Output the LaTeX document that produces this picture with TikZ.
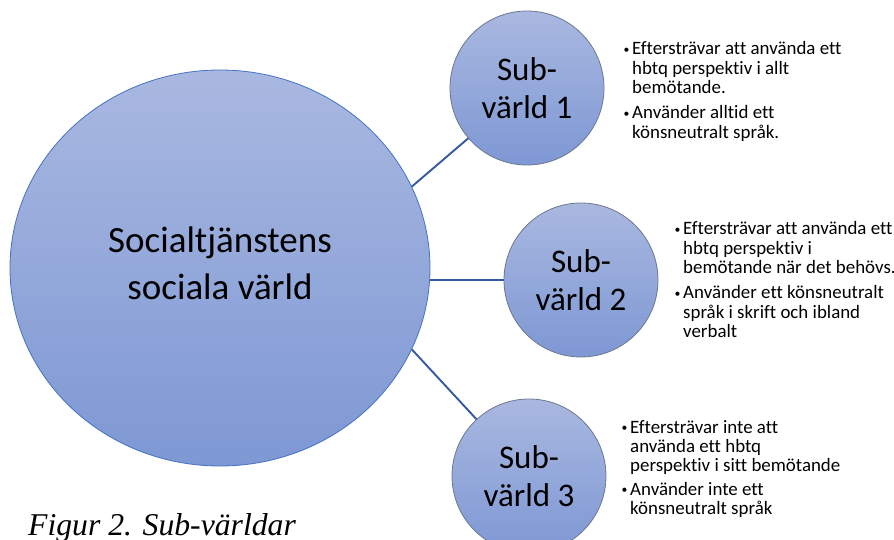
\documentclass[tikz,border=0pt]{standalone}
\usepackage{fontspec}
\setmainfont{Carlito}[Ligatures={NoCommon}]
\newfontfamily\capfont{Liberation Serif}
\usetikzlibrary{shapes.geometric}
\definecolor{topblue}{HTML}{A9B8E0}
\definecolor{botblue}{HTML}{7E98D4}
\definecolor{rimblue}{HTML}{4472C4}
\definecolor{rimgray}{HTML}{6E7790}
\definecolor{linkblue}{HTML}{3459A0}
\newcommand{\bulletline}[1]{\par\noindent\hangindent=9pt\hangafter=1\makebox[9pt][l]{\hspace{0.5pt}\raisebox{1.6pt}{\scalebox{0.62}{\textbullet}}}#1\par}
\begin{document}
\begin{tikzpicture}[x=1pt,y=-1pt,
  bigworld/.style={ellipse, draw=rimblue, line width=0.8pt, top color=topblue, bottom color=botblue,
    minimum width=420pt, minimum height=396pt, inner sep=0pt},
  subworld/.style={circle, draw=rimgray, line width=0.8pt, top color=topblue, bottom color=botblue,
    minimum size=154pt, inner sep=0pt, align=center, font=\fontsize{33}{38}\selectfont},
  bigtext/.style={align=center, inner sep=0pt, font=\fontsize{37}{47}\selectfont},
  bullets/.style={anchor=base west, inner sep=0pt, font=\fontsize{18.9}{19.4}\selectfont},
  link/.style={draw=linkblue, line width=1.9pt},
  caption/.style={anchor=base west, inner sep=0pt, font=\capfont\itshape\fontsize{31.7}{36}\selectfont}]
\useasboundingbox (0,0) rectangle (894,540);
\node[bigworld] (big) at (220,268) {};
\node[bigtext] (bigt) at (220,263) {Socialtjänstens\\sociala värld};
\node[subworld] (c1) at (527,88) {Sub-\\värld 1};
\node[subworld] (c2) at (581,280) {Sub-\\värld 2};
\node[subworld] (c3) at (529,476) {Sub-\\värld 3};
\draw[link] (big.23) -- (c1);
\draw[link] (c2.west) -- (c2.west -| big.east);
\draw[link] (big.-23) -- (c3);
\node[bullets] (l1) at (623,55) {\parbox[t]{265pt}{%
  \bulletline{Eftersträvar att använda ett\newline hbtq perspektiv i allt\newline bemötande.}\vspace{5.5pt}%
  \bulletline{Använder alltid ett\newline könsneutralt språk.}}};
\node[bullets] (l2) at (674,235) {\parbox[t]{265pt}{%
  \bulletline{Eftersträvar att använda ett\newline hbtq perspektiv i\newline bemötande när det behövs.}\vspace{5.5pt}%
  \bulletline{Använder ett könsneutralt\newline språk i skrift och ibland\newline verbalt}}};
\node[bullets] (l3) at (621,433) {\parbox[t]{265pt}{%
  \bulletline{Eftersträvar inte att\newline använda ett hbtq\newline perspektiv i sitt bemötande}\vspace{4pt}%
  \bulletline{Använder inte ett\newline könsneutralt språk}}};
\node[caption] (cap) at (28,535) {Figur 2. Sub-världar};
\end{tikzpicture}
\end{document}
